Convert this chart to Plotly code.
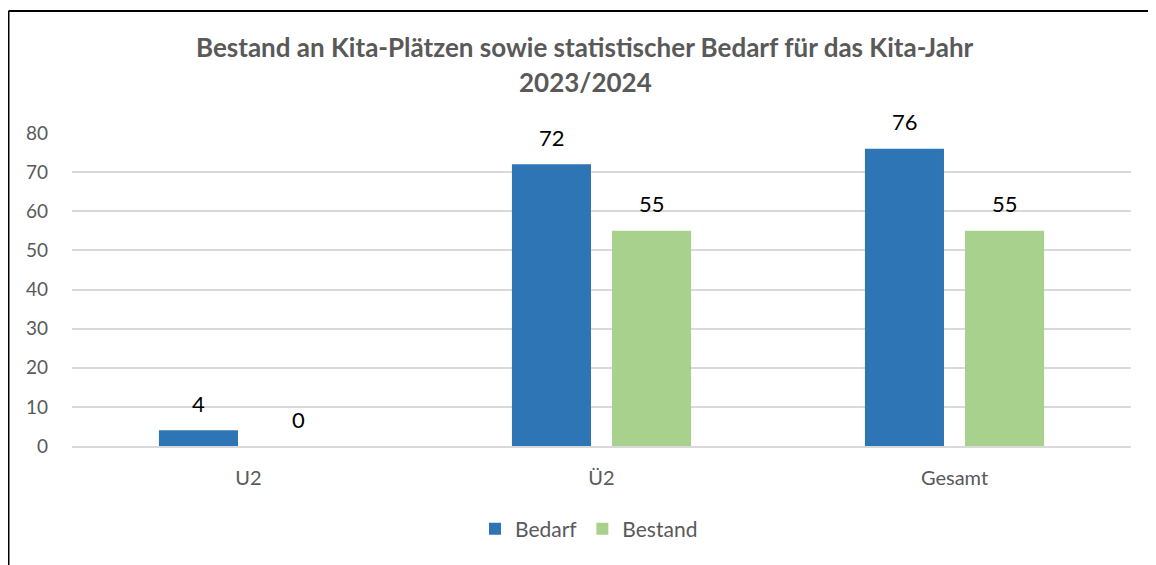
import plotly.graph_objects as go

categories = ["U2", "Ü2", "Gesamt"]
bedarf = [4, 72, 76]
bestand = [0, 55, 55]
series_names = ["Bedarf", "Bestand"]
title_lines = ["Bestand an Kita-Plätzen sowie statistischer Bedarf für das Kita-Jahr", "2023/2024"]
y_ticks = [0, 10, 20, 30, 40, 50, 60, 70, 80]

colors = ["#2E75B6", "#A9D18E"]
FONT = "Lato, Open Sans, sans-serif"
GRAY = "#595959"

OFF = 8  # default body margin of the html page
W, H = 1156 - OFF, 565 - OFF
L, R, T, B = 72 - OFF, 25, 133 - OFF, 119
pw = W - L - R
ph = H - T - B


def px(xpage):
    return (xpage - OFF - L) / pw


def py(ypage):
    return (H - B - (ypage - OFF)) / ph


fig = go.Figure()
for name, vals, col in zip(series_names, [bedarf, bestand], colors):
    fig.add_trace(go.Bar(x=categories, y=vals, name=name, marker_color=col,
                         marker_line_width=0, hoverinfo="x+y"))

# data labels
for si, vals in enumerate([bedarf, bestand]):
    shift = -50 if si == 0 else 50
    for c, v in zip(categories, vals):
        fig.add_annotation(x=c, y=v, text=str(v), showarrow=False,
                           xshift=shift, yshift=27, xref="x", yref="y",
                           font=dict(family=FONT, size=22, color="#000000"))

# title
for line, yc in zip(title_lines, [47, 82]):
    fig.add_annotation(text="<b>%s</b>" % line, x=px(585), y=py(yc),
                       xref="paper", yref="paper", showarrow=False,
                       xanchor="center", yanchor="middle",
                       font=dict(family=FONT, size=26, color=GRAY))

# border (left and top edges of the chart frame)
fig.add_shape(type="line", xref="paper", yref="paper",
              x0=px(8.5), x1=px(8.5), y0=py(11), y1=py(620),
              line=dict(color="#000000", width=2))
fig.add_shape(type="line", xref="paper", yref="paper",
              x0=px(8.5), x1=px(1200), y0=py(11), y1=py(11),
              line=dict(color="#000000", width=2))

fig.update_layout(
    width=W, height=H,
    margin=dict(l=L, r=R, t=T, b=B, pad=0),
    paper_bgcolor="white", plot_bgcolor="white",
    barmode="group", bargap=0.433, bargroupgap=0.21,
    showlegend=True,
    legend=dict(orientation="h", x=px(589), xanchor="center", y=py(529), yanchor="middle",
                font=dict(family=FONT, size=21, color=GRAY), itemwidth=30, traceorder="normal"),
    font=dict(family=FONT, color=GRAY),
)
fig.update_yaxes(range=[0, 80], tickvals=y_ticks, showgrid=True, gridcolor="#D9D9D9", gridwidth=1.5,
                 zeroline=False, showline=False, ticklabelstandoff=23,
                 tickfont=dict(family=FONT, size=19, color=GRAY), fixedrange=True)
fig.update_xaxes(showline=True, linecolor="#D9D9D9", linewidth=1.5, ticklabelstandoff=13,
                 tickfont=dict(family=FONT, size=20, color=GRAY))

fig.write_html("out.html")
